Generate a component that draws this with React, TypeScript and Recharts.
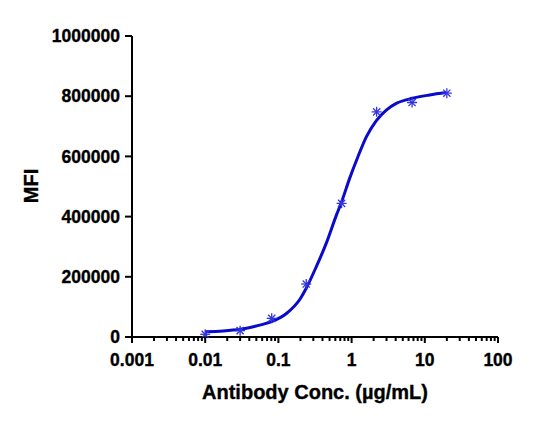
import { ComposedChart, Line, Scatter, XAxis, YAxis } from "recharts";

const FONT = '"Liberation Sans", Arial, sans-serif';
const BLUE_LINE = "#0a0acd";
const BLUE_MARK = "#3434e0";

// measured points (µg/mL vs MFI)
const concentrations = [0.01, 0.03, 0.081, 0.24, 0.73, 2.2, 6.7, 20];
const mfiValues = [9000, 21000, 62000, 176000, 444000, 748000, 779000, 810000];

// fitted curve
const curveConc = [
  0.01, 0.0176, 0.03, 0.05, 0.08, 0.13, 0.2, 0.24, 0.33, 0.45, 0.62, 0.73, 0.94, 1.22, 1.59,
  2.18, 2.98, 4.08, 6.76, 11.6, 19.6,
];
const curveMfi = [
  17600, 20000, 25500, 36500, 51000, 79000, 128000, 162000, 234000, 311000, 405000, 449000,
  527000, 599000, 665000, 719000, 754000, 776000, 793000, 804000, 812000,
];

const majorTicks = [0.001, 0.01, 0.1, 1, 10, 100];
const minorSteps = [2, 3, 4, 5, 6, 7, 8, 9];
const yTicks = [0, 200000, 400000, 600000, 800000, 1000000];

const xTicks = majorTicks.flatMap((m, i) =>
  i < majorTicks.length - 1 ? [m, ...minorSteps.map((s) => +(m * s).toPrecision(3))] : [m]
);

const points = concentrations.map((x, i) => ({ x, y: mfiValues[i] }));
const curve = curveConc.map((x, i) => ({ x, y: curveMfi[i] }));

const boldText = {
  fontFamily: FONT,
  fontWeight: 700,
  fill: "#000",
  stroke: "#000",
  strokeWidth: 0.35,
};

function XTick(props: any) {
  const { x, y, payload } = props;
  const isMajor = majorTicks.includes(payload.value);
  return (
    <g>
      <line x1={x} x2={x} y1={y} y2={y + (isMajor ? 6 : 4)} stroke="#000" strokeWidth={2} />
      {isMajor && (
        <text x={x} y={y + 29} textAnchor="middle" fontSize={17.5} {...boldText}>
          {payload.value}
        </text>
      )}
    </g>
  );
}

function Asterisk(props: any) {
  const { cx, cy } = props;
  const r = 5;
  const d = 3.6;
  return (
    <g stroke={BLUE_MARK} strokeWidth={1.3}>
      <line x1={cx} x2={cx} y1={cy - r} y2={cy + r} />
      <line x1={cx - r} x2={cx + r} y1={cy} y2={cy} />
      <line x1={cx - d} x2={cx + d} y1={cy - d} y2={cy + d} />
      <line x1={cx - d} x2={cx + d} y1={cy + d} y2={cy - d} />
    </g>
  );
}

export default function App() {
  return (
    <ComposedChart width={551} height={419} margin={{ top: 28, right: 61, bottom: 0, left: 0 }}>
      <XAxis
        type="number"
        dataKey="x"
        scale="log"
        domain={[0.001, 100]}
        allowDataOverflow
        ticks={xTicks}
        interval={0}
        tick={<XTick />}
        tickLine={false}
        tickSize={0}
        tickMargin={0}
        height={90}
        axisLine={{ stroke: "#000", strokeWidth: 2 }}
        label={{
          content: () => (
            <text x={307} y={391} textAnchor="middle" fontSize={20} {...boldText}>
              Antibody Conc. (µg/mL)
            </text>
          ),
        }}
      />
      <YAxis
        type="number"
        dataKey="y"
        domain={[0, 1000000]}
        ticks={yTicks}
        interval={0}
        width={124}
        tickSize={7}
        tickMargin={5}
        axisLine={{ stroke: "#000", strokeWidth: 2 }}
        tickLine={{ stroke: "#000", strokeWidth: 2 }}
        tick={{ ...boldText, fontSize: 17.5 }}
        label={{
          content: () => (
            <text
              x={30}
              y={178}
              transform="rotate(-90 30 178)"
              textAnchor="middle"
              fontSize={20}
              {...boldText}
            >
              MFI
            </text>
          ),
        }}
      />
      <Line
        data={curve}
        dataKey="y"
        type="monotone"
        stroke={BLUE_LINE}
        strokeWidth={3}
        dot={false}
        activeDot={false}
        isAnimationActive={false}
      />
      <Scatter data={points} dataKey="y" shape={<Asterisk />} isAnimationActive={false} />
    </ComposedChart>
  );
}
